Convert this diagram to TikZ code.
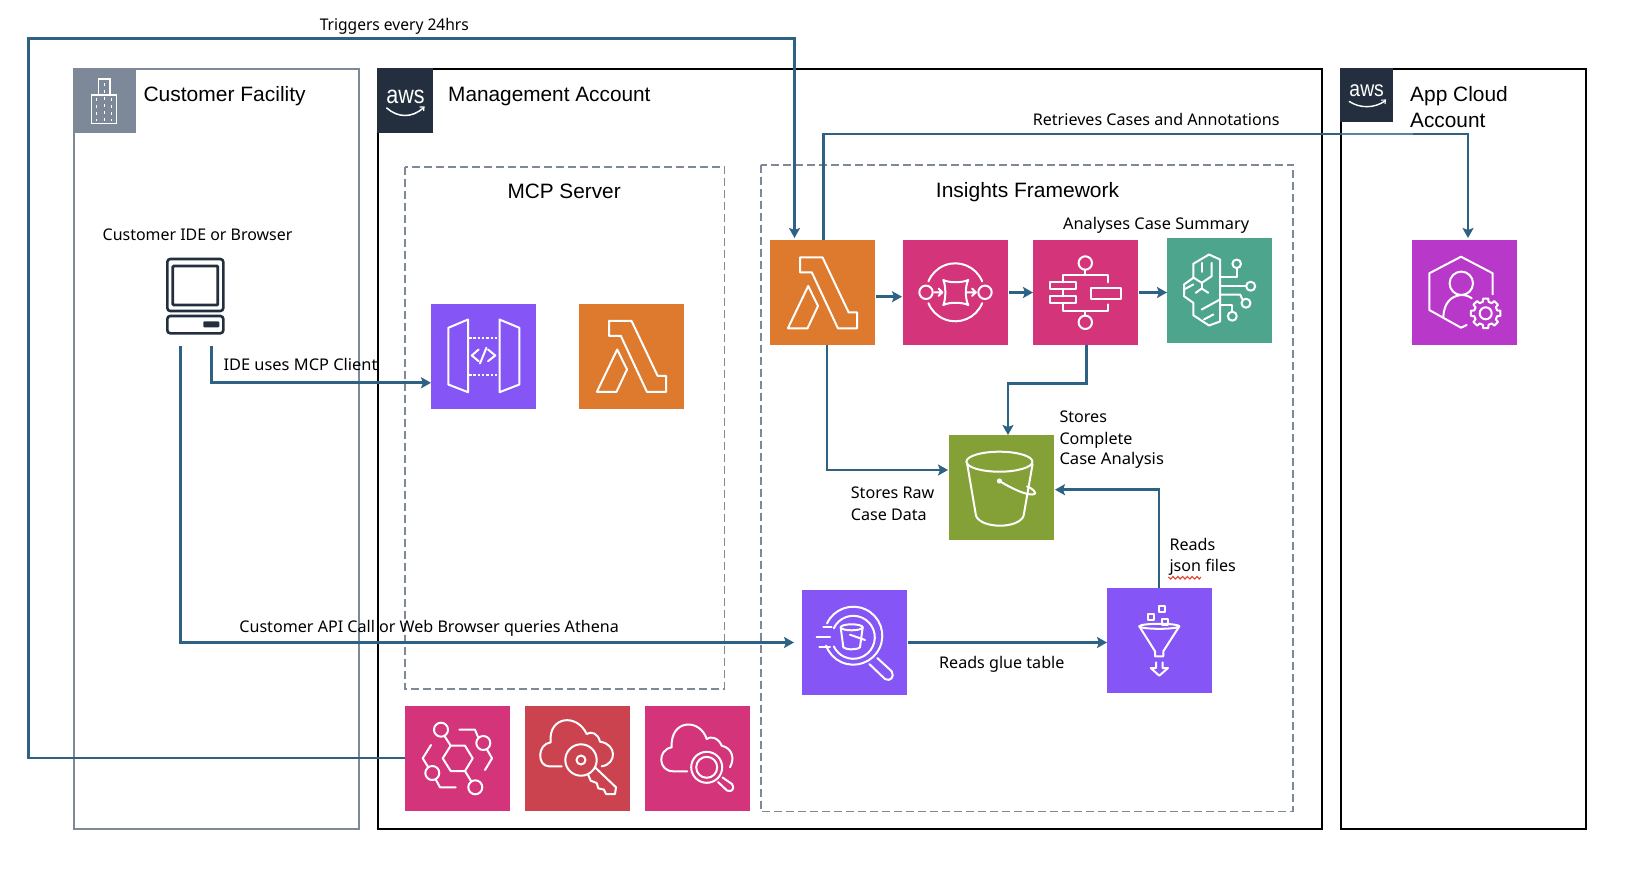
\documentclass[tikz,border=0pt]{standalone}
\usepackage{fontspec}
\setmainfont{Liberation Sans}
\newfontfamily\labfont{Noto Sans}
\usetikzlibrary{arrows.meta}
\definecolor{conn}{HTML}{2E6285}
\definecolor{gr}{HTML}{7D8998}
\definecolor{navy}{HTML}{232F3E}
\definecolor{orangeT}{HTML}{DE7A2D}
\definecolor{pinkT}{HTML}{D3347A}
\definecolor{redT}{HTML}{CC4350}
\definecolor{greenT}{HTML}{84A137}
\definecolor{tealT}{HTML}{4EA58D}
\definecolor{violetT}{HTML}{8655F6}
\definecolor{purpleT}{HTML}{B838C9}
\tikzset{
  tile/.style={minimum size=105pt,inner sep=0pt,outer sep=0pt,draw=none},
  ic/.style={draw=white,line width=2pt,line join=round,line cap=round},
  cn/.style={draw=conn,line width=2.9pt,line join=miter,-{Stealth[length=10pt,width=11pt,inset=2pt]}},
  acct/.style={draw=black,line width=2pt},
  dsh/.style={draw=gr,line width=1.8pt,dash pattern=on 8pt off 4pt},
  lab/.style={anchor=west,inner sep=0pt,font=\labfont\fontsize{16.1}{19}\selectfont,text=black},
  head/.style={anchor=west,inner sep=0pt,font=\fontsize{20.8}{24}\selectfont,text=black},
}
\newcommand{\lambdaicon}{%
  \draw[ic] (30,17.3) -- (52.5,17.3) -- (78.6,72.3) -- (87,72.3) -- (87,88.3) -- (67.9,88.3) -- (41.8,32.3) -- (30,32.3) -- cycle;
  \draw[ic] (38.2,46) -- (48,66) -- (37.5,88.3) -- (17.9,88.3) -- cycle;
}
\begin{document}
\begin{tikzpicture}[x=1pt,y=-1pt]
\useasboundingbox (0,0) rectangle (1634,886);
% accounts
\draw[draw=gr,line width=1.6pt] (74,69) rectangle (359,829);
\draw[acct] (378,69) rectangle (1322,829);
\draw[acct] (1341,69) rectangle (1586,829);
% headers
\fill[gr] (73,68) rectangle (136,133);
\draw[white,line width=1.1pt] (98.3,95) -- (98.3,79) -- (110,79) -- (110,95);
\draw[white,line width=1.1pt] (91.7,95) rectangle (116.7,123.3);
\foreach \xx/\ya in {96.7/98,104.3/83,111.7/98}
  \draw[white,line width=1.1pt,dash pattern=on 3pt off 4pt] (\xx,\ya) -- (\xx,121);
\fill[navy] (377,68) rectangle (433,133);
\node[inner sep=0pt,text=white,font=\fontsize{25}{25}\selectfont,xscale=.86] (awsa) at (405.5,97) {aws};
\draw[white,line width=1.5pt,line cap=round] (386.7,108) .. controls (398,118) and (412,118) .. (423.3,108);
\draw[white,line width=1.2pt] (419.5,107) -- (424,107) -- (423.6,111);
\fill[navy] (1340,68) rectangle (1393,121.7);
\node[inner sep=0pt,text=white,font=\fontsize{22}{22}\selectfont,xscale=.88] (awsb) at (1366.7,90.5) {aws};
\draw[white,line width=1.4pt,line cap=round] (1349.3,101.5) .. controls (1360,108.5) and (1374,108.5) .. (1385,101);
\draw[white,line width=1.1pt] (1381,100.2) -- (1385.5,100) -- (1385,104);
% dashed groups
\draw[dsh] (405.3,166.7) rectangle (724.4,688.7);
\draw[dsh] (761,164.7) rectangle (1293,811.5);
% computer
\node[minimum width=56pt,minimum height=74.3pt,inner sep=0pt,outer sep=0pt] (pc) at (195.3,296.2) {};
\draw[navy,line width=2.6pt,rounded corners=3pt] (167.3,259) rectangle (223.3,311);
\draw[navy,line width=2.8pt,rounded corners=1pt] (172.8,266) rectangle (217.8,305);
\draw[navy,line width=2.6pt,rounded corners=3pt] (167.3,316) rectangle (223.3,333.3);
\fill[navy,rounded corners=1pt] (203.3,321.3) rectangle (219.3,327.3);
% tiles
\node[tile,fill=violetT] (api) at (483.5,356) {};
\node[tile,fill=orangeT] (lam2) at (631.5,356) {};
\node[tile,fill=orangeT] (lam1) at (822.5,292.5) {};
\node[tile,fill=pinkT] (sqs) at (955.5,292.5) {};
\node[tile,fill=pinkT] (step) at (1085.5,292.5) {};
\node[tile,fill=tealT] (bed) at (1219.5,290) {};
\node[tile,fill=greenT] (s3) at (1001.5,487.5) {};
\node[tile,fill=violetT] (ath) at (854.5,642.5) {};
\node[tile,fill=violetT] (glue) at (1159.5,640.5) {};
\node[tile,fill=pinkT] (eb) at (457.5,758.5) {};
\node[tile,fill=redT] (kms) at (577.5,758.5) {};
\node[tile,fill=pinkT] (cw) at (697.5,758.5) {};
\node[tile,fill=purpleT] (app) at (1464.5,292.5) {};
% API gateway
\begin{scope}[shift={(api.north west)}]
  \draw[ic] (37,16) -- (17.3,24.3) -- (17.3,81) -- (37,88.7) -- cycle;
  \draw[ic] (68.5,16) -- (88.4,24.3) -- (88.4,81) -- (68.5,88.7) -- cycle;
  \draw[ic,line cap=butt,dash pattern=on 2.5pt off 1.8pt] (38,34.3) -- (68,34.3);
  \draw[ic,line cap=butt,dash pattern=on 2.5pt off 1.8pt] (38,71.7) -- (68,71.7);
  \draw[ic] (47.6,46) -- (40.8,52) -- (47.6,57.7);
  \draw[ic] (57,46) -- (64.3,52) -- (57,57.7);
  \draw[ic] (55.4,44.3) -- (49,60);
\end{scope}
\begin{scope}[shift={(lam2.north west)}]\lambdaicon\end{scope}
\begin{scope}[shift={(lam1.north west)}]\lambdaicon\end{scope}
% SQS
\begin{scope}[shift={(sqs.north west)}]
  \draw[ic] (23,52.3) circle[radius=6.7pt];
  \draw[ic] (82,52.3) circle[radius=6.7pt];
  \draw[ic] ([shift={(22:29pt)}]52.3,52.3) arc[start angle=22,end angle=158,radius=29pt];
  \draw[ic] ([shift={(-22:29pt)}]52.3,52.3) arc[start angle=-22,end angle=-158,radius=29pt];
  \draw[ic] (40.3,40) .. controls (46,43) and (59,43) .. (65.3,40) .. controls (62,46) and (62,59) .. (65.3,65) .. controls (59,62) and (46,62) .. (40.3,65) .. controls (43,59) and (43,46) .. (40.3,40) -- cycle;
  \draw[ic] (31.3,52.3) -- (39,52.3) (35.5,48.5) -- (39.3,52.3) -- (35.5,56);
  \draw[ic] (64,52.3) -- (72.5,52.3) (69,48.5) -- (72.8,52.3) -- (69,56);
\end{scope}
% Step Functions
\begin{scope}[shift={(step.north west)}]
  \draw[ic] (52.3,23) circle[radius=6.7pt];
  \draw[ic] (52.3,82.3) circle[radius=6.7pt];
  \draw[ic] (52.3,29.7) -- (52.3,35) (52.3,71) -- (52.3,75.6);
  \draw[ic] (30.3,42.3) -- (30.3,35) -- (75.3,35) -- (75.3,42.3);
  \draw[ic] (30.3,63.3) -- (30.3,71) -- (75.3,71) -- (75.3,64.3);
  \draw[ic] (17,42.3) rectangle (43,49.3);
  \draw[ic] (17,56.3) rectangle (43,63.3);
  \draw[ic] (30.3,49.3) -- (30.3,56.3);
  \draw[ic] (57.7,47.7) rectangle (87.7,59);
\end{scope}
% Bedrock
\begin{scope}[shift={(bed.north west)}]
  \draw[ic] (53,22) -- (42,17) -- (26.3,26.3) -- (26.3,40.3) -- (17,47) -- (17,58.7) -- (26.3,65.3) -- (26.3,77.7) -- (42,88) -- (53,84) -- cycle;
  \draw[ic] (34.7,25.3) -- (34.7,34.3);
  \draw[ic] (44.7,25.3) -- (44.7,38.7) -- (34.7,45.3) -- (26.3,40);
  \draw[ic] (34.7,45.3) -- (34.7,51);
  \draw[ic] (28.7,55.3) -- (34.7,51) -- (41.3,55.3);
  \draw[ic] (17,52) -- (26.3,47);
  \draw[ic] (34.7,72) -- (53,62);
  \draw[ic] (37,82) -- (46.3,77);
  \draw[ic] (53,39.7) -- (69.7,39.7) -- (69.7,30.6);
  \draw[ic] (69.7,26.3) circle[radius=4.3pt];
  \draw[ic] (53,48.7) -- (79.2,48.7);
  \draw[ic] (83.7,48.7) circle[radius=4.5pt];
  \draw[ic] (53,57) -- (73,57) -- (75.7,62.4);
  \draw[ic] (79,65.7) circle[radius=4.5pt];
  \draw[ic] (53,67) -- (64.7,67) -- (64.7,74.3);
  \draw[ic] (65.3,78.7) circle[radius=4.5pt];
\end{scope}
% S3
\begin{scope}[shift={(s3.north west)}]
  \draw[ic] (50.4,26.7) ellipse[x radius=33pt,y radius=10pt];
  \draw[ic] (18.2,29) -- (27,80.7) .. controls (32,94) and (70,94) .. (74.6,80.7) -- (83.6,29);
  \fill[white] (50.4,46) circle[radius=2.6pt];
  \draw[ic] (50.4,46) .. controls (62,53) and (76,60) .. (84,59.5) .. controls (90,58.5) and (82,52.5) .. (78,51.5);
\end{scope}
% Athena
\begin{scope}[shift={(ath.north west)}]
  \draw[ic] ([shift={(155:29pt)}]51.3,45.7) arc[start angle=155,end angle=-160,radius=29pt];
  \draw[ic] ([shift={(155:21.5pt)}]51.3,47.3) arc[start angle=155,end angle=-155,radius=21.5pt];
  \draw[ic] (21.3,37.3) -- (29.7,37.3) (14.7,47.3) -- (28,47.3) (17.3,56.7) -- (28,56.7);
  \draw[ic] (49.7,37.3) ellipse[x radius=11pt,y radius=3pt];
  \draw[ic] (38.7,37.3) -- (41.3,57.3) .. controls (44,60) and (55,60) .. (58,57.3) -- (60.7,37.3);
  \draw[ic] (48,44.7) -- (63,50);
  \draw[ic] (67.3,74) -- (83,89) .. controls (88,92) and (93,87) .. (89.7,81.3) -- (75.3,68);
\end{scope}
% Glue
\begin{scope}[shift={(glue.north west)}]
  \draw[ic] (51.7,18) rectangle (57.7,24);
  \draw[ic] (41.3,25.7) rectangle (47.3,31.7);
  \draw[ic] (55,31.3) rectangle (61,37.3);
  \draw[ic] (52.3,38.3) ellipse[x radius=20pt,y radius=2.5pt];
  \draw[ic] (32.3,38.3) -- (48,63.3) -- (48,68.3) -- (56.3,68.3) -- (56.3,63.3) -- (72.3,38.3);
  \draw[ic] (49,74.3) -- (49,80) -- (43.7,80) -- (52.3,87.7) -- (61,80) -- (55.7,80) -- (55.7,74.3);
\end{scope}
% EventBridge
\begin{scope}[shift={(eb.north west)}]
  \draw[ic] (37.7,52.3) -- (45.7,39.7) -- (60,39.7) -- (67.7,52.3) -- (60,65) -- (45.7,65) -- cycle;
  \draw[ic] (36,23.7) circle[radius=7pt];
  \draw[ic] (78.3,37) circle[radius=7pt];
  \draw[ic] (27.3,67) circle[radius=7pt];
  \draw[ic] (70.3,81.3) circle[radius=7pt];
  \draw[ic] (45.7,39.7) -- (39.5,30);
  \draw[ic] (60,65) -- (66.3,75.5);
  \draw[ic] (54.3,23.7) -- (70,23.7) -- (73,31);
  \draw[ic] (82,43.5) -- (87,52.3) -- (80,64);
  \draw[ic] (26,39) -- (17.7,52.3) -- (23.3,61.3);
  \draw[ic] (30.5,73) -- (35,81.3) -- (50.7,81.3);
\end{scope}
% KMS
\begin{scope}[shift={(kms.north west)}]
  \draw[ic] (36.7,60.3) -- (24,60.3) .. controls (12,60.3) and (12,38) .. (25.7,36.3) .. controls (23,10) and (52,7) .. (61.7,28) .. controls (66,25) and (73,27) .. (75,35.7) .. controls (92,38) and (92,58) .. (76.7,60.3);
  \draw[ic] (56,54) circle[radius=15.7pt];
  \draw[ic] (56,54) circle[radius=4.5pt];
  \draw[ic] (70,61.3) -- (91,81.3) -- (90,88) -- (81,88) -- (79,83.7) -- (73.3,82.3) -- (71.7,77) -- (65.7,74.7) -- (63.3,69);
\end{scope}
% CloudWatch
\begin{scope}[shift={(cw.north west)}]
  \draw[ic] (42.3,65.3) -- (28.3,65.3) .. controls (13,65.3) and (12,44) .. (26.7,41.3) .. controls (25,13) and (55,12) .. (61.7,33) .. controls (65,30) and (73,31) .. (76.7,39.7) .. controls (87,42) and (90,52) .. (85,61.3);
  \draw[ic] (61.7,61.3) circle[radius=15.5pt];
  \draw[ic] (61.7,61.3) circle[radius=10.5pt];
  \draw[ic] (73,76) -- (82,84.5) .. controls (87,87) and (90,82) .. (87,78) -- (77.5,71.5);
\end{scope}
% App
\begin{scope}[shift={(app.north west)}]
  \draw[ic] (80.7,54.3) -- (80.7,33.3) -- (49,16.7) -- (17.3,33.3) -- (17.3,70) -- (49,87.7) -- (54.7,85);
  \draw[ic] (49.3,43.3) circle[radius=11.7pt];
  \draw[ic] (31.3,76.7) .. controls (32,64) and (38,56) .. (49.3,55) .. controls (53,55) and (57,56) .. (59.7,58.3);
  \begin{scope}[shift={(73.7,73.3)}]
    \draw[ic] (-10:15pt) \foreach \a in {0,45,...,315}{ -- (\a-10:15pt) -- (\a+10:15pt) -- (\a+14:11.8pt) -- (\a+31:11.8pt) -- (\a+35:15pt)} -- cycle;
    \draw[ic] (0,0) circle[radius=6pt];
  \end{scope}
\end{scope}
% waypoints
\coordinate (wTrig) at (28.5,38.5);
\coordinate (wRet) at (1000,134);
\coordinate (wStep) at (1050,383.3);
% connectors
\draw[cn] ([yshift=0.5pt]eb.west) -| (wTrig) -| ([xshift=24.5pt,yshift=2pt]lam1.north west);
\draw[cn] ([xshift=53.6pt]lam1.north west) |- (wRet) -| ([xshift=56pt,yshift=2pt]app.north west);
\draw[cn] ([yshift=-4.2pt,xshift=1pt]lam1.east) -- ([yshift=-4.2pt,xshift=-1pt]sqs.west);
\draw[cn] ([xshift=0.5pt]sqs.east) -- (step.west);
\draw[cn] ([xshift=0.5pt]step.east) -- ([yshift=-2.5pt]bed.west);
\draw[cn] ([xshift=53.4pt]step.south west) |- (wStep) -| ([xshift=59pt]s3.north west);
\draw[cn] ([xshift=57pt]lam1.south west) |- ([yshift=17.5pt,xshift=-1pt]s3.west);
\draw[cn] ([xshift=52pt]glue.north west) |- ([yshift=-2.2pt,xshift=1pt]s3.east);
\draw[cn] ([xshift=1pt]ath.east) -- ([yshift=-2pt]glue.west);
\draw[cn] ([xshift=13pt,yshift=-12.4pt]pc.south west) |- ([xshift=-8pt]ath.west);
\draw[cn] ([xshift=44pt,yshift=-12.4pt]pc.south west) |- ([yshift=-26.8pt]api.west);
\fill[white,opacity=.22] (1342,132.5) rectangle (1413,135.5);
% red squiggle
\draw[draw={rgb,255:red,224;green,66;blue,48},line width=1.1pt] (1168.3,577) -- (1170.6,579) -- (1173,576.5) -- (1175.4,579) -- (1177.8,576.5) -- (1180.2,579) -- (1182.6,576.5) -- (1185,579) -- (1187.4,576.5) -- (1189.8,579) -- (1192.2,576.5) -- (1194.6,579) -- (1197,576.5) -- (1199.4,579) -- (1200.7,577);
% texts
\node[head,xscale=1.01] (t1) at (143.3,96) {Customer Facility};
\node[head] (t2) at (448,97) {Management Account};
\node[head] (t3) at (507.3,191.7) {MCP Server};
\node[head,xscale=1.01] (t4) at (935.7,192.2) {Insights Framework};
\node[head,xscale=1.005] (t5) at (1410,96) {App Cloud};
\node[head] (t6) at (1410,120.7) {Account};
\node[lab,xscale=.99] (l1) at (102.5,234.3) {Customer IDE or Browser};
\node[lab,xscale=.967] (l2) at (319.6,26.3) {Triggers every 24hrs};
\node[lab,xscale=1.02] (l3) at (223.3,364.5) {IDE uses MCP Client};
\node[lab] (l4) at (1032.6,119.3) {Retrieves Cases and Annotations};
\node[lab,xscale=1.015] (l5) at (1062.9,225.3) {Analyses Case Summary};
\node[lab] (l6) at (1059.3,416.5) {Stores};
\node[lab] (l7) at (1059.3,440) {Complete};
\node[lab,xscale=1.03] (l8) at (1059.3,460) {Case Analysis};
\node[lab] (l9) at (850.7,492.3) {Stores Raw};
\node[lab] (l10) at (850.7,514.3) {Case Data};
\node[lab] (l11) at (1169.3,544) {Reads};
\node[lab] (l12) at (1169.3,567.5) {json files};
\node[lab] (l13) at (239.2,628) {Customer API Call or Web Browser queries Athena};
\node[lab] (l14) at (939,664.3) {Reads glue table};
\end{tikzpicture}
\end{document}
